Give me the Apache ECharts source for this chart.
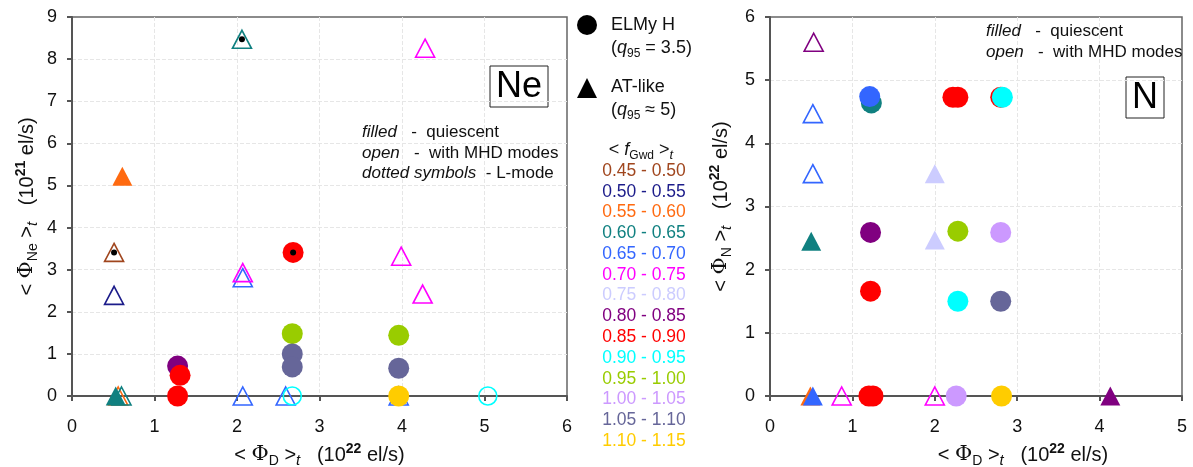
<!DOCTYPE html>
<html>
<head>
<meta charset="utf-8">
<script src="https://cdn.jsdelivr.net/npm/echarts@6/dist/echarts.min.js"></script>
<style>
  html, body { margin: 0; padding: 0; background: #fff; }
  #chart { width: 1193px; height: 467px; }
</style>
</head>
<body>
<div id="chart"></div>
<script>
// <f_Gwd>_t classes, one colour per class
const fGwdRanges = ['0.45 - 0.50', '0.50 - 0.55', '0.55 - 0.60', '0.60 - 0.65', '0.65 - 0.70',
  '0.70 - 0.75', '0.75 - 0.80', '0.80 - 0.85', '0.85 - 0.90', '0.90 - 0.95', '0.95 - 1.00',
  '1.00 - 1.05', '1.05 - 1.10', '1.10 - 1.15'];
const rangeColors = ['#a0461e', '#1c1c8a', '#ff6a10', '#108080', '#3366ff', '#ff00ff', '#ccccff',
  '#800080', '#ff0000', '#00ffff', '#99cc00', '#cc99ff', '#666699', '#ffcc00'];

// Ne panel: [<Phi_D>, <Phi_Ne>, class index]
const neTriOpen = [[2.06, 8.47, 3], [4.28, 8.26, 5], [0.51, 3.41, 0], [0.51, 2.39, 1], [2.07, 2.81, 4],
  [2.07, 2.93, 5], [3.99, 3.32, 5], [4.25, 2.42, 5], [0.56, 0, 2], [0.6, 0, 3], [2.07, 0, 4],
  [2.59, 0, 4], [3.96, 0, 4]];
const neTriFilled = [[0.61, 5.22, 2], [0.53, 0, 3]];
const neCircleOpen = [[2.67, 0, 9], [5.04, 0, 9]];
const neCircleFilled = [[1.28, 0.71, 7], [1.31, 0.49, 8], [1.28, 0, 8], [2.68, 3.41, 8],
  [2.67, 1.48, 10], [2.67, 1.0, 12], [2.67, 0.69, 12], [3.96, 1.44, 10], [3.96, 0.66, 12],
  [3.96, 0, 13]];
const neDotted = [[2.06, 8.47], [0.51, 3.41], [2.68, 3.41]];

// N panel: [<Phi_D>, <Phi_N>, class index]
const nTriOpen = [[0.53, 5.6, 7], [0.52, 4.47, 4], [0.52, 3.52, 4], [0.87, 0, 5], [2.0, 0, 5]];
const nTriFilled = [[2.0, 3.52, 6], [0.5, 2.45, 3], [2.0, 2.47, 6], [0.49, 0, 2], [0.52, 0, 4],
  [4.13, 0, 7]];
const nCircleFilled = [[1.23, 4.64, 3], [1.21, 4.74, 4], [2.22, 4.73, 8], [2.28, 4.73, 8],
  [2.8, 4.73, 8], [2.82, 4.73, 9], [1.22, 2.59, 7], [2.28, 2.61, 10], [2.8, 2.59, 11],
  [1.22, 1.66, 8], [2.28, 1.5, 9], [2.8, 1.5, 12], [1.2, 0, 8], [1.25, 0, 8], [2.26, 0, 11],
  [2.81, 0, 13]];

const FONT = '"Liberation Sans", Arial, Helvetica, sans-serif';
const SERIF = '"DejaVu Serif", "Liberation Serif", serif';

const nameRich = {
  phi: { fontFamily: SERIF, fontSize: 21, color: '#111' },
  sub: { fontFamily: FONT, fontSize: 14, verticalAlign: 'bottom', lineHeight: 16, color: '#111' },
  it: { fontFamily: FONT, fontSize: 15, fontStyle: 'italic', verticalAlign: 'bottom', lineHeight: 16, color: '#111' },
  sup: { fontFamily: FONT, fontSize: 14, fontWeight: 'bold', verticalAlign: 'top', lineHeight: 16, color: '#111' },
};

const marks = (data, shape, filled, idx) => ({
  type: 'scatter',
  xAxisIndex: idx,
  yAxisIndex: idx,
  symbol: shape,
  symbolSize: shape === 'triangle' ? (filled ? [20, 19] : [19, 18]) : (filled ? 21 : 18),
  clip: false,
  silent: true,
  data: data.map(d => ({
    value: [d[0], d[1]],
    itemStyle: filled
      ? { color: rangeColors[d[2]], opacity: 1 }
      : { color: 'rgba(0,0,0,0)', borderColor: rangeColors[d[2]], borderWidth: 1.6, opacity: 1 },
  })),
});

const dots = (data, idx) => ({
  type: 'scatter', xAxisIndex: idx, yAxisIndex: idx, symbol: 'circle', symbolSize: 6,
  clip: false, silent: true, z: 5, itemStyle: { color: '#000', opacity: 1 },
  data: data.map(d => [d[0], d[1]]),
});

const splitCfg = {
  show: true, showMinLine: false, showMaxLine: false,
  lineStyle: { color: '#e6e6e6', type: 'dashed', width: 1 },
};

const xAxisCfg = (idx, max, shift) => ({
  gridIndex: idx, type: 'value', min: 0, max: max, interval: 1,
  name: '< {phi|Φ}{sub|D} >{it|t}   (10{sup|22} el/s)',
  nameLocation: 'middle', nameGap: 46, nameMoveOverlap: false,
  nameTextStyle: { fontFamily: FONT, fontSize: 20, color: '#111', lineHeight: 26, padding: [0, 0, 0, shift], rich: nameRich },
  axisLine: { show: true, onZero: false, lineStyle: { color: '#555', width: 2 } },
  axisTick: { show: true, inside: false, length: 5, lineStyle: { color: '#555', width: 2 } },
  axisLabel: { fontFamily: FONT, fontSize: 18, color: '#111', margin: 22 },
  splitLine: splitCfg,
});

const yAxisCfg = (idx, max, name, gap) => ({
  gridIndex: idx, type: 'value', min: 0, max: max, interval: 1,
  name: name, nameLocation: 'middle', nameRotate: 90, nameGap: gap, nameMoveOverlap: false,
  nameTextStyle: { fontFamily: FONT, fontSize: 20, color: '#111', lineHeight: 26, rich: nameRich },
  axisLine: { show: true, onZero: false, lineStyle: { color: '#555', width: 2 } },
  axisTick: { show: true, inside: false, length: 5, lineStyle: { color: '#555', width: 2 } },
  axisLabel: { fontFamily: FONT, fontSize: 18, color: '#111', margin: 15 },
  splitLine: splitCfg,
});

// legend in the middle + annotations
const txt = (x, y, text, extra) => ({
  type: 'text', x: x, y: y, silent: true, z: 100,
  style: Object.assign({
    text: text, fill: '#111', font: '18px ' + FONT, textVerticalAlign: 'middle',
    rich: {
      q: { fontFamily: FONT, fontSize: 18, fontStyle: 'italic', fill: '#111' },
      s: { fontFamily: FONT, fontSize: 12, fill: '#111', verticalAlign: 'bottom', lineHeight: 16 },
      ts: { fontFamily: FONT, fontSize: 13, fontStyle: 'italic', fill: '#111', verticalAlign: 'bottom', lineHeight: 16 },
      i: { fontFamily: FONT, fontSize: 17, fontStyle: 'italic', fill: '#111' },
    },
  }, extra || {}),
});

const graphics = [
  { type: 'circle', shape: { cx: 587, cy: 25, r: 10 }, style: { fill: '#000' }, silent: true },
  { type: 'polygon', shape: { points: [[577, 98], [597, 98], [587, 78]] }, style: { fill: '#000' }, silent: true },
  txt(611, 25, 'ELMy H'),
  txt(611, 48, '({q|q}{s|95} = 3.5)', { lineHeight: 24 }),
  txt(611, 87, 'AT-like'),
  txt(611, 110, '({q|q}{s|95} ≈ 5)', { lineHeight: 24 }),
  txt(641, 150, '< {q|f}{s|Gwd} >{ts|t}', { textAlign: 'center', lineHeight: 24 }),
  ...fGwdRanges.map((r, i) => txt(644, 171 + i * 20.77, r, { textAlign: 'center', fill: rangeColors[i], font: '17.5px ' + FONT })),
  // Ne panel notes
  { type: 'rect', shape: { x: 490, y: 66, width: 58, height: 41 }, style: { fill: '#fff', stroke: '#222', lineWidth: 1 }, silent: true },
  txt(519, 87, 'Ne', { font: '36px ' + FONT, textAlign: 'center', fill: '#000' }),
  txt(362, 132, '{i|filled}   -  quiescent', { font: '17px ' + FONT }),
  txt(362, 153, '{i|open}   -  with MHD modes', { font: '17px ' + FONT }),
  txt(362, 173, '{i|dotted symbols}  - L-mode', { font: '17px ' + FONT }),
  // N panel notes
  { type: 'rect', shape: { x: 1126, y: 77, width: 38, height: 41 }, style: { fill: '#fff', stroke: '#222', lineWidth: 1 }, silent: true },
  txt(1145, 98, 'N', { font: '36px ' + FONT, textAlign: 'center', fill: '#000' }),
  txt(986, 31, '{i|filled}   -  quiescent', { font: '17px ' + FONT }),
  txt(986, 52, '{i|open}   -  with MHD modes', { font: '17px ' + FONT }),
];

const chart = echarts.init(document.getElementById('chart'), null, { renderer: 'canvas' });
chart.setOption({
  animation: false,
  backgroundColor: '#fff',
  grid: [
    { left: 72, top: 17, width: 495, height: 379, outerBoundsMode: 'none', show: true, borderColor: '#666', borderWidth: 1.5, backgroundColor: 'transparent' },
    { left: 770, top: 17, width: 412, height: 379, outerBoundsMode: 'none', show: true, borderColor: '#666', borderWidth: 1.5, backgroundColor: 'transparent' },
  ],
  xAxis: [xAxisCfg(0, 6, 0), xAxisCfg(1, 5, 94)],
  yAxis: [
    yAxisCfg(0, 9, '< {phi|Φ}{sub|Ne} >{it|t}   (10{sup|21} el/s)', 32),
    yAxisCfg(1, 6, '< {phi|Φ}{sub|N} >{it|t}   (10{sup|22} el/s)', 36),
  ],
  series: [
    marks(neTriOpen, 'triangle', false, 0),
    marks(neTriFilled, 'triangle', true, 0),
    marks(neCircleOpen, 'circle', false, 0),
    marks(neCircleFilled, 'circle', true, 0),
    dots(neDotted, 0),
    marks(nTriOpen, 'triangle', false, 1),
    marks(nTriFilled, 'triangle', true, 1),
    marks(nCircleFilled, 'circle', true, 1),
  ],
  graphic: graphics,
});
</script>
</body>
</html>
